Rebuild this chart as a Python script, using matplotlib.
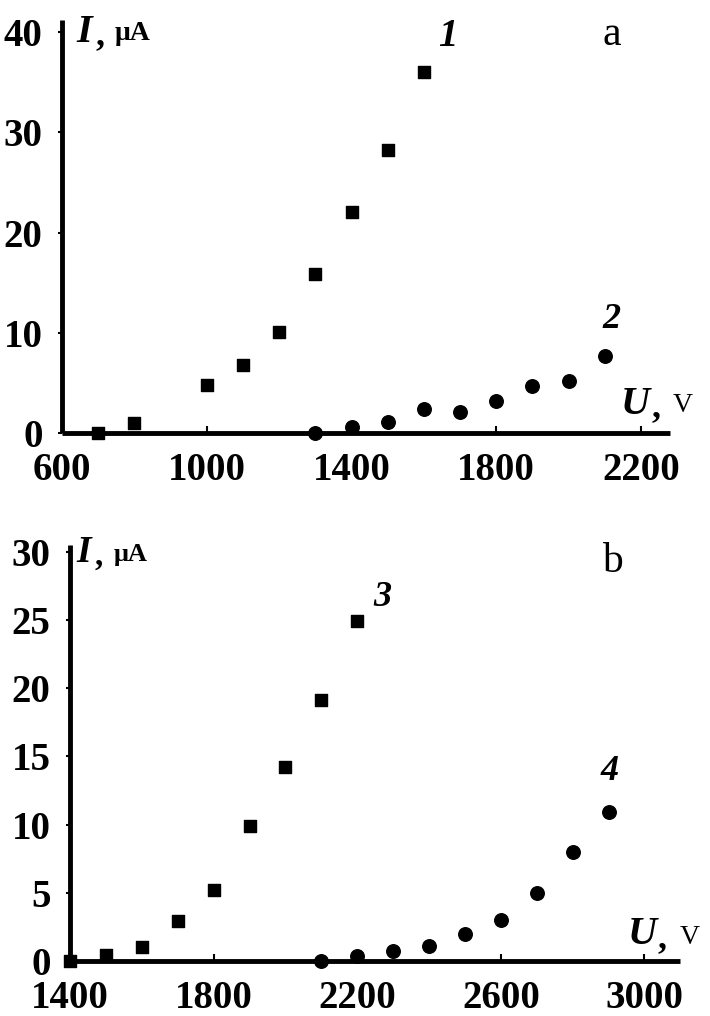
import matplotlib
matplotlib.use("Agg")
import matplotlib.pyplot as plt

# --- panel a ---
u1 = [700, 800, 1000, 1100, 1200, 1300, 1400, 1500, 1600]
i1 = [0.0, 1.0, 4.8, 6.8, 10.1, 15.9, 22.0, 28.2, 36.0]
u2 = [1300, 1400, 1500, 1600, 1700, 1800, 1900, 2000, 2100]
i2 = [0.0, 0.6, 1.1, 2.4, 2.1, 3.2, 4.7, 5.2, 7.7]
xticks_a = [600, 1000, 1400, 1800, 2200]
yticks_a = [0, 10, 20, 30, 40]

# --- panel b ---
u3 = [1400, 1500, 1600, 1700, 1800, 1900, 2000, 2100, 2200]
i3 = [0.0, 0.45, 1.0, 2.9, 5.2, 9.9, 14.2, 19.1, 24.9]
u4 = [2100, 2200, 2300, 2400, 2500, 2600, 2700, 2800, 2900]
i4 = [0.0, 0.4, 0.7, 1.1, 2.0, 3.0, 5.0, 8.0, 10.9]
xticks_b = [1400, 1800, 2200, 2600, 3000]
yticks_b = [0, 5, 10, 15, 20, 25, 30]

W, H = 710, 1016
fig = plt.figure(figsize=(W / 100, H / 100), dpi=100)

def box(l, t, r, b):
    return [l / W, 1 - b / H, (r - l) / W, (b - t) / H]

serif = "Liberation Serif"

def style(ax, xt, yt):
    for s in ["top", "right"]:
        ax.spines[s].set_visible(False)
    for s in ["left", "bottom"]:
        ax.spines[s].set_linewidth(3.5)
        ax.spines[s].set_capstyle("butt")
    ax.set_xticks(xt)
    ax.set_yticks(yt)
    ax.tick_params(axis="x", direction="in", length=5, width=1.5, pad=14)
    ax.tick_params(axis="y", direction="out", length=3, width=1.5, pad=11)
    for lab in ax.get_xticklabels() + ax.get_yticklabels():
        lab.set_fontfamily(serif)
        lab.set_fontweight("bold")
        lab.set_fontsize(28)

def ftext(x, y, s, **kw):
    fig.text(x / W, 1 - y / H, s, family=serif, **kw)

def axlabel(x, y, sym, unit, size):
    # italic bold symbol, bold comma, unit
    ftext(x, y, sym, fontsize=size, fontweight="bold", fontstyle="italic", va="center")
    return sym

# panel a
ax1 = fig.add_axes(box(62, 20, 670, 433))
ax1.scatter(u1, i1, marker="s", s=75, color="black", zorder=3, clip_on=False)
ax1.scatter(u2, i2, marker="o", s=95, color="black", zorder=3, clip_on=False)
ax1.set_xlim(600, 2280)
ax1.set_ylim(0, 41.2)
style(ax1, xticks_a, yticks_a)

ftext(76, 32, "I", fontsize=29, fontweight="bold", fontstyle="italic", va="center")
ftext(96, 36, ",", fontsize=26, fontweight="bold", va="center")
ftext(115, 34, "\u03bcA", fontsize=20, fontweight="bold", va="center")
ftext(621, 404, "U", fontsize=29, fontweight="bold", fontstyle="italic", va="center")
ftext(651, 408, ",", fontsize=26, fontweight="bold", va="center")
ftext(673, 406, "V", fontsize=20, va="center")
ftext(448, 36, "1", fontsize=28, fontweight="bold", fontstyle="italic", va="center", ha="center")
ftext(612, 35, "a", fontsize=30, va="center", ha="center")
ftext(612, 320, "2", fontsize=26, fontweight="bold", fontstyle="italic", va="center", ha="center")

# panel b
ax2 = fig.add_axes(box(70, 545, 680, 961))
ax2.scatter(u3, i3, marker="s", s=75, color="black", zorder=3, clip_on=False)
ax2.scatter(u4, i4, marker="o", s=95, color="black", zorder=3, clip_on=False)
ax2.set_xlim(1400, 3099)
ax2.set_ylim(0, 30.5)
style(ax2, xticks_b, yticks_b)

ftext(76, 552, "I", fontsize=27, fontweight="bold", fontstyle="italic", va="center")
ftext(95, 556, ",", fontsize=24, fontweight="bold", va="center")
ftext(114, 554, "\u03bcA", fontsize=19, fontweight="bold", va="center")
ftext(628, 935, "U", fontsize=29, fontweight="bold", fontstyle="italic", va="center")
ftext(658, 939, ",", fontsize=26, fontweight="bold", va="center")
ftext(680, 937, "V", fontsize=20, va="center")
ftext(382, 598, "3", fontsize=26, fontweight="bold", fontstyle="italic", va="center", ha="center")
ftext(612, 562, "b", fontsize=30, va="center", ha="center")
ftext(610, 772, "4", fontsize=26, fontweight="bold", fontstyle="italic", va="center", ha="center")

fig.savefig("out.png", dpi=100)
